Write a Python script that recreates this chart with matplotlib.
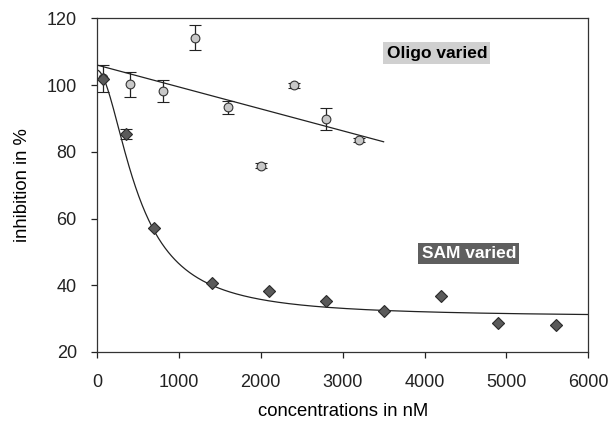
import numpy as np
import matplotlib
matplotlib.use("Agg")
import matplotlib.pyplot as plt

plt.rcParams["font.family"] = ["Liberation Sans", "DejaVu Sans"]

# Oligo varied (circles)
oligo_x = [70, 400, 800, 1200, 1600, 2000, 2400, 2800, 3200]
oligo_y = [102.0, 100.2, 98.2, 114.2, 93.3, 75.8, 99.9, 89.8, 83.5]
oligo_err = [4.0, 3.7, 3.3, 3.7, 2.0, 0.7, 0.7, 3.3, 0.6]

# SAM varied (diamonds)
sam_x = [70, 350, 700, 1400, 2100, 2800, 3500, 4200, 4900, 5600]
sam_y = [101.8, 85.3, 57.1, 40.6, 38.4, 35.2, 32.3, 36.7, 28.7, 28.1]
sam_err = [0, 1.4, 0, 0, 0, 0, 0, 0, 0, 0]

# linear trend for oligo series (intercept, slope, end)
oligo_fit = (106.0, -23.0 / 3500, 3500)
# dose-response fit for SAM series (top, bottom, ic50, hill)
sam_fit = (104.5, 30.5, 498.0, 1.85)

fig = plt.figure(figsize=(6.12, 4.22), dpi=100)
ax = fig.add_axes([0.1585, 0.1659, 0.8028, 0.7907])

xl = np.linspace(0, oligo_fit[2], 50)
ax.plot(xl, oligo_fit[0] + oligo_fit[1] * xl, color="#222222", lw=0.9, zorder=2)

top, bottom, ic50, hill = sam_fit
xc = np.linspace(0, 6000, 600)
ax.plot(xc, bottom + (top - bottom) / (1 + (xc / ic50) ** hill),
        color="#222222", lw=0.9, zorder=2)

ax.errorbar(oligo_x, oligo_y, yerr=oligo_err, fmt="o", ms=6.3,
            mfc="#c8c8c8", mec="#333333", mew=0.8, ecolor="#222222",
            elinewidth=0.9, capsize=4, capthick=0.9, zorder=3)
ax.errorbar(sam_x, sam_y, yerr=sam_err, fmt="D", ms=6.5,
            mfc="#5a5a5a", mec="#2a2a2a", mew=0.8, ecolor="#222222",
            elinewidth=0.9, capsize=4, capthick=0.9, zorder=4)

ax.text(4150, 109.6, "Oligo varied", ha="center", va="center",
        fontsize=12.5, fontweight="bold", color="black",
        bbox=dict(boxstyle="square,pad=0.18", fc="#d0d0d0", ec="none"))
ax.text(4540, 49.6, "SAM varied", ha="center", va="center",
        fontsize=12.5, fontweight="bold", color="white",
        bbox=dict(boxstyle="square,pad=0.18", fc="#5f5f5f", ec="none"))

ax.set_xlim(0, 6000)
ax.set_ylim(20, 120)
ax.set_xticks(range(0, 6001, 1000))
ax.set_yticks(range(20, 121, 20))
ax.tick_params(labelsize=13, direction="out", length=4.5, width=0.9,
               colors="#222222")
ax.tick_params(axis="y", pad=10)
ax.tick_params(axis="x", pad=11)
for s in ax.spines.values():
    s.set_linewidth(0.9)
    s.set_color("#333333")

ax.set_xlabel("concentrations in nM", fontsize=13.3, labelpad=9)
ax.set_ylabel("inhibition in %", fontsize=13.3, labelpad=11)

fig.savefig("out.png", dpi=100)
